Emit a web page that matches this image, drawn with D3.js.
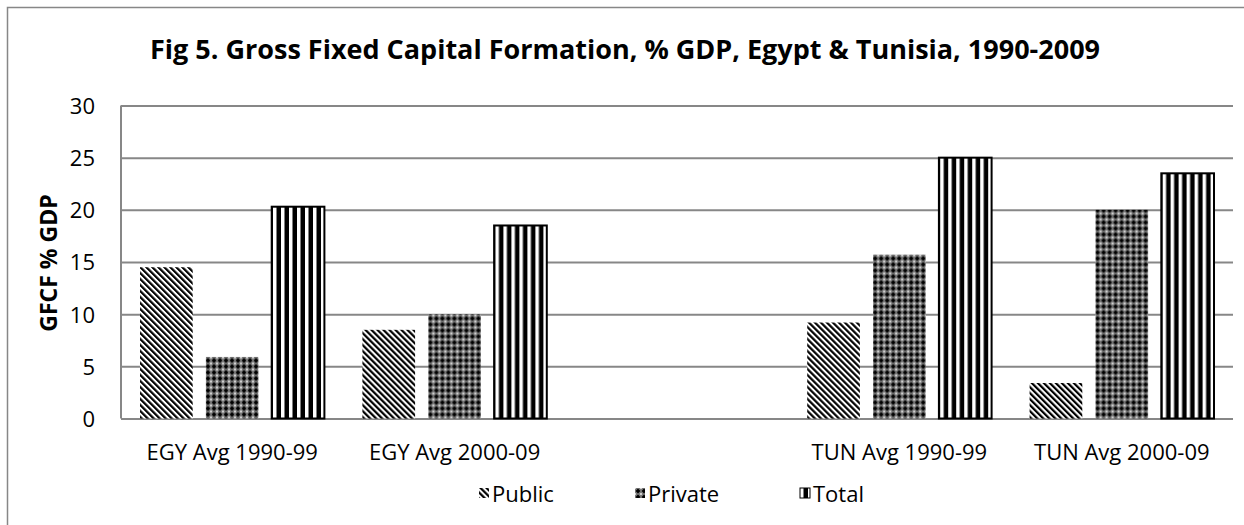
<!DOCTYPE html>
<html>
<head>
<meta charset="utf-8">
<script src="https://cdn.jsdelivr.net/npm/d3@7"></script>
<style>
  body { margin: 0; background: #fff; }
  svg { display: block; }
  svg text { font-family: "Open Sans", sans-serif; }
  .grid line { stroke: #878787; stroke-width: 2; }
  .grid .domain { display: none; }
  .tick text { fill: #000; }
</style>
</head>
<body>
<svg width="1244" height="525"></svg>
<script>
const categories = ["EGY Avg 1990-99", "EGY Avg 2000-09", "", "TUN Avg 1990-99", "TUN Avg 2000-09"];
const seriesNames = ["Public", "Private", "Total"];
const publicVals = [14.5, 8.5, null, 9.2, 3.4];
const privateVals = [5.9, 10.0, null, 15.7, 20.0];
const totalVals = [20.3, 18.5, null, 25.0, 23.5];
const yTicks = [0, 5, 10, 15, 20, 25, 30];

const series = [publicVals, privateVals, totalVals];

let svg = d3.select("svg"),
    margin = {top: 105.5, right: 11, bottom: 106.5, left: 121},
    width = +svg.attr("width") - margin.left - margin.right,
    height = +svg.attr("height") - margin.top - margin.bottom;

// fill patterns, roughly like the excel ones
let defs = svg.append("defs");

let pPub = defs.append("pattern")
    .attr("id", "pat-public")
    .attr("patternUnits", "userSpaceOnUse")
    .attr("width", 4.24).attr("height", 4.24)
    .attr("patternTransform", "rotate(-45)");
pPub.append("rect").attr("width", 4.24).attr("height", 4.24).attr("fill", "#fff");
pPub.append("rect").attr("width", 2.2).attr("height", 4.24).attr("fill", "#000");

let pPriv = defs.append("pattern")
    .attr("id", "pat-private")
    .attr("patternUnits", "userSpaceOnUse")
    .attr("width", 6).attr("height", 6);
pPriv.append("rect").attr("width", 6).attr("height", 6).attr("fill", "#7a7a7a");
pPriv.append("path").attr("d", "M3,0.6L5.4,3L3,5.4L0.6,3Z").attr("fill", "#000");
pPriv.append("rect").attr("x", -0.8).attr("y", -0.8).attr("width", 1.6).attr("height", 1.6).attr("fill", "#fff");
pPriv.append("rect").attr("x", 5.2).attr("y", -0.8).attr("width", 1.6).attr("height", 1.6).attr("fill", "#fff");
pPriv.append("rect").attr("x", -0.8).attr("y", 5.2).attr("width", 1.6).attr("height", 1.6).attr("fill", "#fff");
pPriv.append("rect").attr("x", 5.2).attr("y", 5.2).attr("width", 1.6).attr("height", 1.6).attr("fill", "#fff");

let pTot = defs.append("pattern")
    .attr("id", "pat-total")
    .attr("patternUnits", "userSpaceOnUse")
    .attr("width", 8).attr("height", 8);
pTot.append("rect").attr("width", 8).attr("height", 8).attr("fill", "#fff");
pTot.append("rect").attr("x", 3.5).attr("width", 4.5).attr("height", 8).attr("fill", "#000");

const fills = ["url(#pat-public)", "url(#pat-private)", "url(#pat-total)"];
const strokes = ["none", "none", "#000"];

// outer chart border
svg.append("rect")
    .attr("x", 7.5).attr("y", 7.5)
    .attr("width", 1260).attr("height", 540)
    .attr("fill", "none")
    .attr("stroke", "#878787")
    .attr("stroke-width", 1.5);

svg.append("text")
    .attr("x", 625)
    .attr("y", 59)
    .attr("text-anchor", "middle")
    .attr("font-weight", "bold")
    .attr("font-size", 27)
    .text("Fig 5. Gross Fixed Capital Formation, % GDP, Egypt & Tunisia, 1990-2009");

let x0 = d3.scaleBand().domain(categories).range([0, width]).padding(0);
let x1 = d3.scaleBand().domain(seriesNames)
    .range([19, x0.bandwidth() - 19])
    .paddingInner(0.2).paddingOuter(0);
let y = d3.scaleLinear().domain([0, 30]).range([height, 0]);

let g = svg.append("g")
    .attr("transform", "translate(" + margin.left + "," + margin.top + ")");

g.append("g")
    .attr("class", "grid")
    .call(d3.axisLeft(y).tickValues(yTicks).tickSize(-width).tickFormat(""));

g.append("line")
    .attr("x1", 0).attr("x2", 0)
    .attr("y1", 0).attr("y2", height)
    .attr("stroke", "#878787").attr("stroke-width", 2);

g.append("g")
    .attr("class", "axis axis--y")
    .call(d3.axisLeft(y).tickValues(yTicks).tickSize(0).tickPadding(26))
    .call(s => s.select(".domain").remove())
    .selectAll("text")
      .attr("font-size", 22)
      .attr("dy", "0.36em");

g.append("g")
    .attr("class", "axis axis--x")
    .attr("transform", "translate(0," + height + ")")
    .call(d3.axisBottom(x0).tickSize(0).tickPadding(26))
    .call(s => s.select(".domain").remove())
    .selectAll("text")
      .attr("font-size", 22);

svg.append("text")
    .attr("transform", "translate(57,263) rotate(-90)")
    .attr("text-anchor", "middle")
    .attr("font-weight", "bold")
    .attr("font-size", 23)
    .text("GFCF % GDP");

let groups = g.selectAll(".grp")
  .data(categories)
  .enter().append("g")
    .attr("class", "grp")
    .attr("transform", function(d) { return "translate(" + x0(d) + ",0)"; });

groups.selectAll(".bar")
  .data(function(d, i) {
    return seriesNames.map(function(s, j) { return {s: s, j: j, v: series[j][i]}; })
      .filter(function(e) { return e.v != null; });
  })
  .enter().append("rect")
    .attr("class", "bar")
    .attr("x", function(e) { return x1(e.s); })
    .attr("y", function(e) { return y(e.v); })
    .attr("width", x1.bandwidth())
    .attr("height", function(e) { return height - y(e.v); })
    .attr("fill", function(e) { return fills[e.j]; })
    .attr("stroke", function(e) { return strokes[e.j]; })
    .attr("stroke-width", 2);

// legend
const legendX = [479, 635, 800];
let legend = svg.append("g").attr("class", "legend");
seriesNames.forEach(function(s, j) {
  let it = legend.append("g").attr("transform", "translate(" + legendX[j] + ",488)");
  it.append("rect")
    .attr("width", 10).attr("height", 10)
    .attr("fill", fills[j])
    .attr("stroke", strokes[j])
    .attr("stroke-width", 1);
  it.append("text")
    .attr("x", 13).attr("y", 14)
    .attr("font-size", 22)
    .text(s);
});
</script>
</body>
</html>
